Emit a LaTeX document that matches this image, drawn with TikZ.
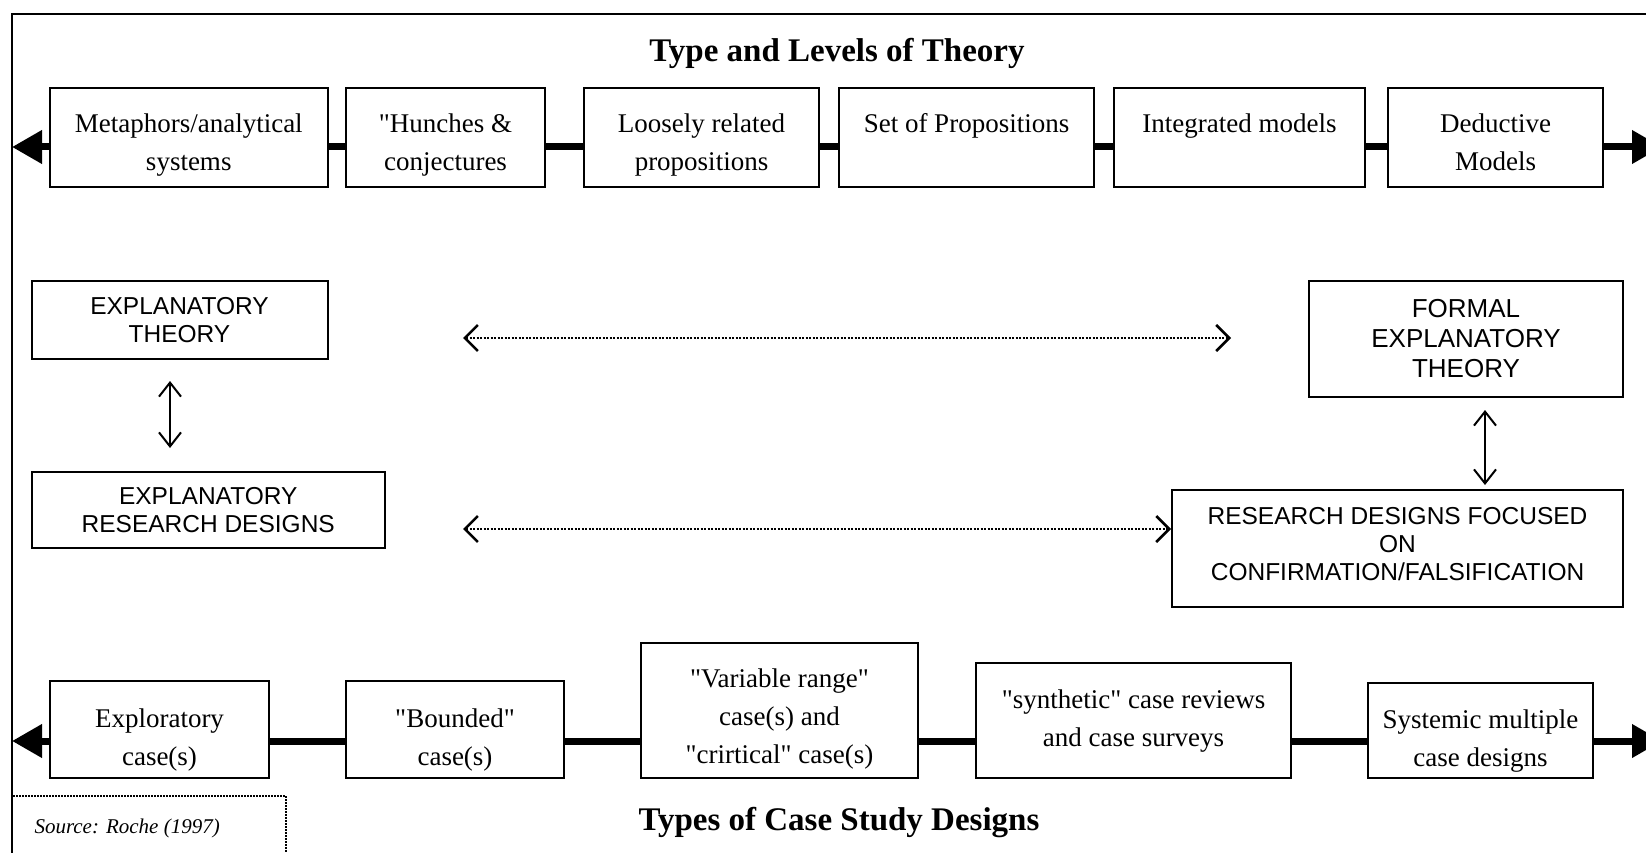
\documentclass[tikz,border=0pt]{standalone}
\usepackage{fontspec}
\setmainfont{Liberation Serif}
\setsansfont{Liberation Sans}
\usetikzlibrary{arrows.meta,calc}
% lines of a box, the first baseline set #1 pt below the box centre
\newcommand\rowsat[2]{\raisebox{-#1pt}[0pt][0pt]{\begin{tabular}[t]{@{}c@{}}#2\end{tabular}}}
\newcommand\dq{\textquotedbl}
\begin{document}
\begin{tikzpicture}[x=1pt,y=-1pt,
  box/.style={draw, line width=2pt, inner sep=0pt,
    font=\fontsize{27}{38}\selectfont},
  capbox/.style={draw, line width=2pt, inner sep=0pt, align=center,
    font=\sffamily\fontsize{24.5}{28}\selectfont},
  heading/.style={font=\bfseries\fontsize{33}{36}\selectfont},
  link/.style={line width=7pt},
  bar/.style={line width=7pt, -{Triangle[length=30pt,width=32pt]}},
  dotarrow/.style={line width=2pt, dash pattern=on 2pt off 1.5pt,
    {Straight Barb[length=13pt,width=26pt,line width=2.5pt]}-{Straight Barb[length=13pt,width=26pt,line width=2.5pt]}},
  updown/.style={line width=1.6pt,
    {Straight Barb[length=14pt,width=22pt,line width=2pt]}-{Straight Barb[length=14pt,width=22pt,line width=2pt]}}
]
\clip (0,0) rectangle (1646,853);

% outer frame
\draw[line width=2.5pt] (12,860) -- (12,14) -- (1660,14);

% ---------- theory scale ----------
\node[heading] (t1) at (837,53) {Type and Levels of Theory};

\node[box, minimum width=277.5pt, minimum height=99pt] (b1) at (188.75,137.5) {\rowsat{-4.5}{Metaphors/analytical\\systems}};
\node[box, minimum width=199pt, minimum height=99pt] (b2) at (445.5,137.5) {\rowsat{-4.5}{\dq Hunches \&\\conjectures}};
\node[box, minimum width=235pt, minimum height=99pt] (b3) at (701.5,137.5) {\rowsat{-4.5}{Loosely related\\propositions}};
\node[box, minimum width=255pt, minimum height=99pt] (b4) at (966.5,137.5) {\rowsat{-4.5}{Set of Propositions}};
\node[box, minimum width=251pt, minimum height=99pt] (b5) at (1239.5,137.5) {\rowsat{-4.5}{Integrated models}};
\node[box, minimum width=215pt, minimum height=99pt] (b6) at (1495.5,137.5) {\rowsat{-4.5}{Deductive\\Models}};

\coordinate (lt) at (12,147);
\coordinate (rt) at (1662,147);
\draw[bar] (b1.west |- lt) -- (lt);
\draw[link] (b1.east |- lt) -- (b2.west |- lt);
\draw[link] (b2.east |- lt) -- (b3.west |- lt);
\draw[link] (b3.east |- lt) -- (b4.west |- lt);
\draw[link] (b4.east |- lt) -- (b5.west |- lt);
\draw[link] (b5.east |- lt) -- (b6.west |- lt);
\draw[bar] (b6.east |- rt) -- (rt);

% ---------- theory / design pairs ----------
\node[capbox, minimum width=296pt, minimum height=78pt] (et) at (179.5,320) {EXPLANATORY\\THEORY};
\node[capbox, minimum width=353.5pt, minimum height=76pt] (erd) at (208.25,510) {EXPLANATORY\\RESEARCH DESIGNS};
\node[capbox, minimum width=314pt, minimum height=116pt,
  font=\sffamily\fontsize{26}{30}\selectfont] (fet) at (1466,339) {FORMAL\\EXPLANATORY\\THEORY};
\node[capbox, minimum width=451pt, minimum height=117pt] (rdf) at (1397.5,548.5) {\rowsat{-24.5}{RESEARCH DESIGNS FOCUSED\\ON\\CONFIRMATION/FALSIFICATION}};

\draw[updown, shorten <=21pt, shorten >=23pt] ([xshift=-9.5pt]et.south) -- ([xshift=-9.5pt]et.south |- erd.north);
\draw[updown, shorten <=12pt, shorten >=4pt] ([xshift=19pt]fet.south) -- ([xshift=19pt]fet.south |- rdf.north);

\coordinate (d1l) at (463,338);
\coordinate (d1r) at (1231,338);
\coordinate (d2l) at (463,529);
\draw[dotarrow] (d1l) -- (d1r);
\draw[dotarrow] (d2l) -- (d2l -| rdf.west);

% ---------- case study scale ----------
\node[box, minimum width=219pt, minimum height=97pt] (c1) at (159.5,729.5) {\rowsat{-2}{Exploratory\\case(s)}};
\node[box, minimum width=218pt, minimum height=97pt] (c2) at (455,729.5) {\rowsat{-2}{\dq Bounded\dq\\case(s)}};
\node[box, minimum width=277pt, minimum height=135pt] (c3) at (779.5,710.5) {\rowsat{-23}{\dq Variable range\dq\\case(s) and\\\dq crirtical\dq{} case(s)}};
\node[box, minimum width=315pt, minimum height=115pt] (c4) at (1133.5,720.5) {\rowsat{-12}{\dq synthetic\dq{} case reviews\\and case surveys}};
\node[box, minimum width=225pt, minimum height=95pt] (c5) at (1480.5,730.5) {\rowsat{-2}{Systemic multiple\\case designs}};

\coordinate (lb) at (12,741);
\coordinate (rb) at (1662,741);
\draw[bar] (c1.west |- lb) -- (lb);
\draw[link] (c1.east |- lb) -- (c2.west |- lb);
\draw[link] (c2.east |- lb) -- (c3.west |- lb);
\draw[link] (c3.east |- lb) -- (c4.west |- lb);
\draw[link] (c4.east |- lb) -- (c5.west |- lb);
\draw[bar] (c5.east |- rb) -- (rb);

\node[heading] (t2) at (839,823) {Types of Case Study Designs};

% source note
\draw[line width=1.5pt, dash pattern=on 1.5pt off 1.5pt] (12,870) -- (12,796) -- (286,796) -- (286,870);
\node[anchor=west, font=\itshape\fontsize{21}{24}\selectfont] (src) at (31,828) {Source: Roche (1997)};
\end{tikzpicture}
\end{document}
